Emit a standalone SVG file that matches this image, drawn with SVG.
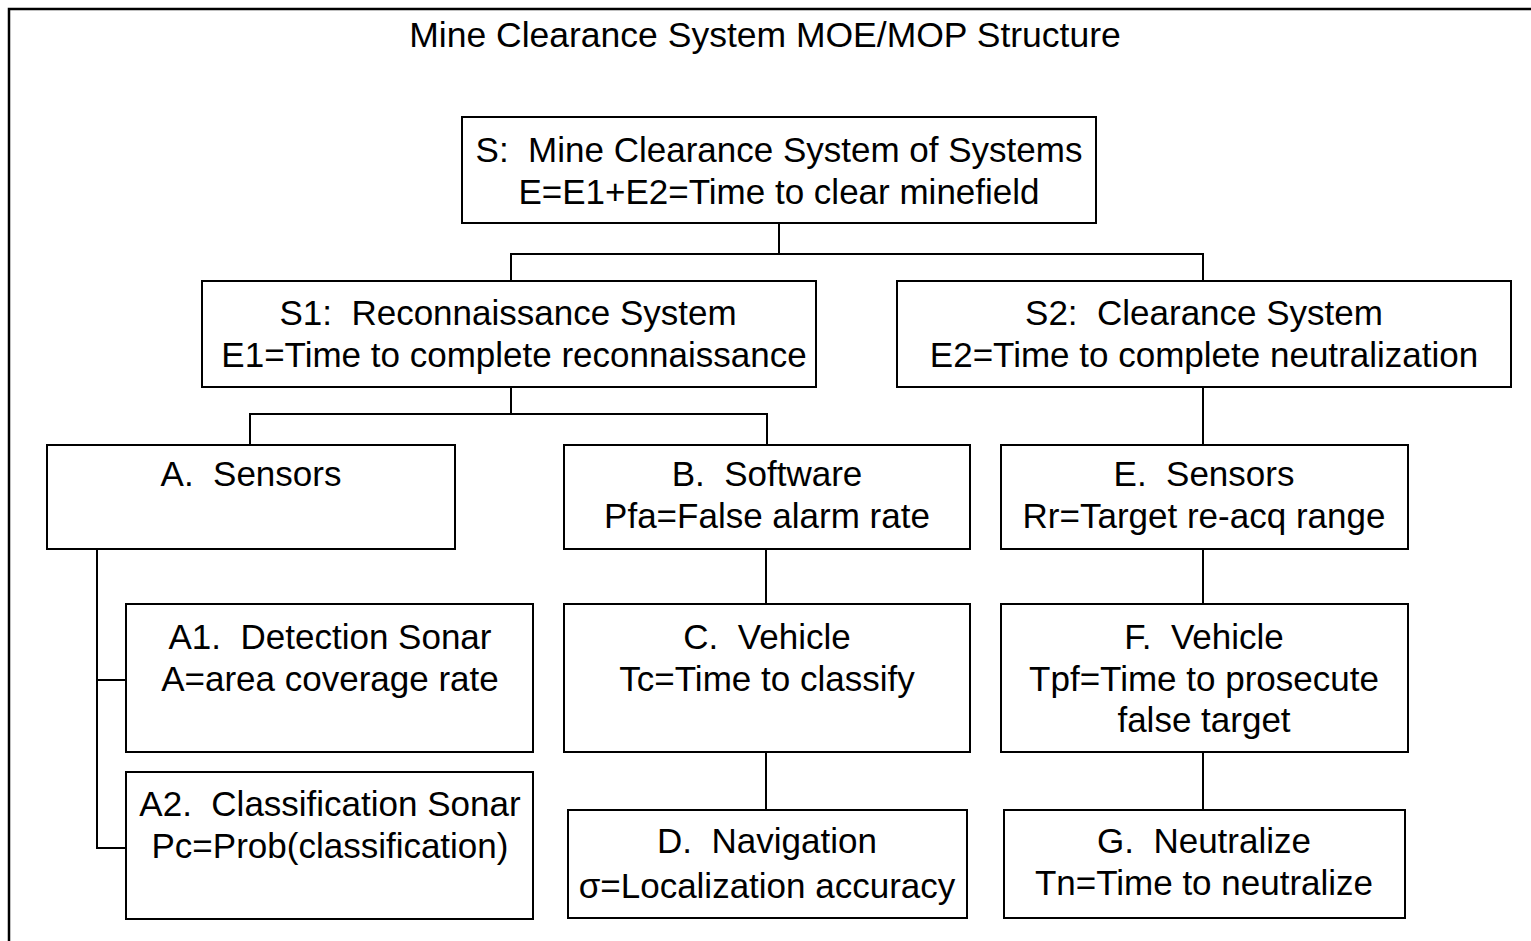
<svg xmlns="http://www.w3.org/2000/svg" width="1531" height="941" viewBox="0 0 1531 941">
  <style>
    .box { fill: #ffffff; stroke: #000000; stroke-width: 2; }
    .frame { fill: none; stroke: #000000; stroke-width: 2.5; }
    .wire { fill: none; stroke: #000000; stroke-width: 2; }
    text { font-family: "Liberation Sans", Arial, sans-serif; font-size: 35px; fill: #000000; text-anchor: middle; white-space: pre; }
    .title { font-size: 35.5px; }
  </style>
  <rect width="1531" height="941" fill="#ffffff"/>
  <!-- outer frame (runs off the right and bottom edges) -->
  <rect class="frame" x="9" y="9" width="1540" height="960"/>
  <text class="title" x="765" y="47">Mine Clearance System MOE/MOP Structure</text>

  <g id="connectors">
    <polyline class="wire" points="779,223 779,254"/>
    <polyline class="wire" points="511,281 511,254 1203,254 1203,281"/>
    <polyline class="wire" points="511,387 511,414"/>
    <polyline class="wire" points="250,445 250,414 767,414 767,445"/>
    <polyline class="wire" points="1203,387 1203,445"/>
    <polyline class="wire" points="97,549 97,848 126,848"/>
    <polyline class="wire" points="97,680 126,680"/>
    <polyline class="wire" points="766,549 766,604"/>
    <polyline class="wire" points="766,752 766,810"/>
    <polyline class="wire" points="1203,549 1203,604"/>
    <polyline class="wire" points="1203,752 1203,810"/>
  </g>

  <g id="node-S">
    <rect class="box" x="462" y="117" width="634" height="106"/>
    <text x="779" y="162">S:  Mine Clearance System of Systems</text>
    <text x="779" y="204">E=E1+E2=Time to clear minefield</text>
  </g>
  <g id="node-S1">
    <rect class="box" x="202" y="281" width="614" height="106"/>
    <text x="508" y="325">S1:  Reconnaissance System</text>
    <text x="514" y="367">E1=Time to complete reconnaissance</text>
  </g>
  <g id="node-S2">
    <rect class="box" x="897" y="281" width="614" height="106"/>
    <text x="1204" y="325">S2:  Clearance System</text>
    <text x="1204" y="367">E2=Time to complete neutralization</text>
  </g>
  <g id="node-A">
    <rect class="box" x="47" y="445" width="408" height="104"/>
    <text x="251" y="486">A.  Sensors</text>
  </g>
  <g id="node-B">
    <rect class="box" x="564" y="445" width="406" height="104"/>
    <text x="767" y="486">B.  Software</text>
    <text x="767" y="528">Pfa=False alarm rate</text>
  </g>
  <g id="node-E">
    <rect class="box" x="1001" y="445" width="407" height="104"/>
    <text x="1204" y="486">E.  Sensors</text>
    <text x="1204" y="528">Rr=Target re-acq range</text>
  </g>
  <g id="node-A1">
    <rect class="box" x="126" y="604" width="407" height="148"/>
    <text x="330" y="649">A1.  Detection Sonar</text>
    <text x="330" y="691">A=area coverage rate</text>
  </g>
  <g id="node-A2">
    <rect class="box" x="126" y="772" width="407" height="147"/>
    <text x="330" y="816">A2.  Classification Sonar</text>
    <text x="330" y="858">Pc=Prob(classification)</text>
  </g>
  <g id="node-C">
    <rect class="box" x="564" y="604" width="406" height="148"/>
    <text x="767" y="649">C.  Vehicle</text>
    <text x="767" y="691">Tc=Time to classify</text>
  </g>
  <g id="node-D">
    <rect class="box" x="568" y="810" width="399" height="108"/>
    <text x="767" y="853">D.  Navigation</text>
    <text x="767" y="898">σ=Localization accuracy</text>
  </g>
  <g id="node-F">
    <rect class="box" x="1001" y="604" width="407" height="148"/>
    <text x="1204" y="649">F.  Vehicle</text>
    <text x="1204" y="691">Tpf=Time to prosecute</text>
    <text x="1204" y="732">false target</text>
  </g>
  <g id="node-G">
    <rect class="box" x="1004" y="810" width="401" height="108"/>
    <text x="1204" y="853">G.  Neutralize</text>
    <text x="1204" y="895">Tn=Time to neutralize</text>
  </g>
</svg>
